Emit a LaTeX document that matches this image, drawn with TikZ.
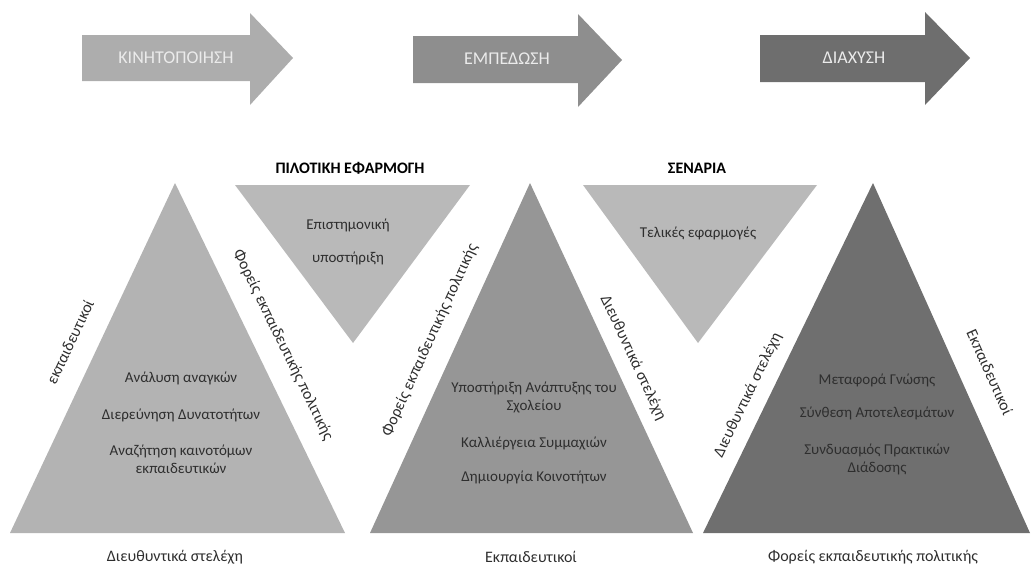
\documentclass[tikz,border=0pt]{standalone}
\usepackage{fontspec}
\setmainfont{Carlito}
\usepackage{xcolor}
\definecolor{phaseA}{HTML}{ADADAD}
\definecolor{phaseB}{HTML}{8E8E8E}
\definecolor{phaseC}{HTML}{6E6E6E}
\definecolor{triA}{HTML}{B3B3B3}
\definecolor{triB}{HTML}{969696}
\definecolor{triC}{HTML}{6F6F6F}
\definecolor{invtri}{HTML}{B9B9B9}
\definecolor{inktext}{HTML}{2E2E2E}

\begin{document}
\begin{tikzpicture}[x=1pt, y=-1pt, font=\fontsize{15}{18}\selectfont,
  phasetext/.style={text=white!92!black, font=\fontsize{18}{21}\selectfont},
  tritext/.style={text=inktext, align=center},
  sidetext/.style={text=inktext, font=\fontsize{16}{19}\selectfont},
  headtext/.style={text=black, font=\fontsize{16}{19}\selectfont\bfseries}]
\path[use as bounding box] (0,0) rectangle (1032,568);

% phase arrows
\fill[phaseA] (82,35) -- (250,35) -- (250,13) -- (293,58) -- (250,105) -- (250,81) -- (82,81) -- cycle;
\fill[phaseB] (413,36) -- (578,36) -- (578,14) -- (622,60) -- (578,107) -- (578,83) -- (413,83) -- cycle;
\fill[phaseC] (760,35) -- (925,35) -- (925,12) -- (970,58) -- (925,105) -- (925,82) -- (760,82) -- cycle;
\node[phasetext] (mobilize) at (176,58) {ΚΙΝΗΤΟΠΟΙΗΣΗ};
\node[phasetext] (embed) at (507,59) {ΕΜΠΕΔΩΣΗ};
\node[phasetext] (spread) at (854,58) {ΔΙΑΧΥΣΗ};

% triangles
\fill[triA] (10,533) -- (175,183) -- (345,533) -- cycle;
\fill[invtri] (235,185) -- (470,185) -- (353,343) -- cycle;
\fill[triB] (370,533) -- (530,183) -- (693,533) -- cycle;
\fill[invtri] (583,185) -- (817,185) -- (698,343) -- cycle;
\fill[triC] (703,533) -- (873,183) -- (1030,533) -- cycle;

\node[headtext] (pilot) at (350,168) {ΠΙΛΟΤΙΚΗ ΕΦΑΡΜΟΓΗ};
\node[headtext] (scen) at (697,168) {ΣΕΝΑΡΙΑ};

% texts inside
\node[tritext] (needs) at (181,378) {Ανάλυση αναγκών};
\node[tritext] (explore) at (181,415) {Διερεύνηση Δυνατοτήτων};
\node[tritext] (search) at (181,459) {Αναζήτηση καινοτόμων\\εκπαιδευτικών};
\node[tritext] (science) at (348,225) {Επιστημονική};
\node[tritext] (support) at (348,258) {υποστήριξη};
\node[tritext] (school) at (534,397) {Υποστήριξη Ανάπτυξης του\\Σχολείου};
\node[tritext] (allies) at (534,443) {Καλλιέργεια Συμμαχιών};
\node[tritext] (commun) at (534,477) {Δημιουργία Κοινοτήτων};
\node[tritext] (final) at (698,233) {Τελικές εφαρμογές};
\node[tritext] (transfer) at (877,380) {Μεταφορά Γνώσης};
\node[tritext] (synth) at (877,413) {Σύνθεση Αποτελεσμάτων};
\node[tritext] (combine) at (877,459) {Συνδυασμός Πρακτικών\\Διάδοσης};

% side labels
\node[sidetext, rotate=64.7] (sideA) at (70,342) {εκπαιδευτικοί};
\node[sidetext, rotate=-64] (sideB) at (283,345) {Φορείς εκπαιδευτικής πολιτικής};
\node[sidetext, rotate=65.4] (sideC) at (430,340) {Φορείς εκπαιδευτικής πολιτικής};
\node[sidetext, rotate=-65] (sideD) at (633,358) {Διευθυντικά στελέχη};
\node[sidetext, rotate=64.1] (sideE) at (748,395) {Διευθυντικά στελέχη};
\node[sidetext, rotate=-65.8] (sideF) at (990,372) {Εκπαιδευτικοί};

% bottom labels
\node[sidetext] (baseA) at (175,557) {Διευθυντικά στελέχη};
\node[sidetext] (baseB) at (531,557) {Εκπαιδευτικοί};
\node[sidetext] (baseC) at (873,557) {Φορείς εκπαιδευτικής πολιτικής};
\end{tikzpicture}
\end{document}
